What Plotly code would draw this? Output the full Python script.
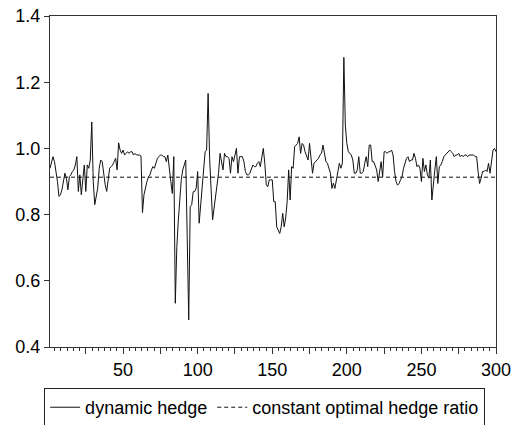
import plotly.graph_objects as go

dynamic_hedge = [
    0.94, 0.955, 0.975, 0.96, 0.93, 0.90, 0.855, 0.86, 0.875, 0.895,
    0.925, 0.91, 0.875, 0.915, 0.92, 0.93, 0.935, 0.95, 0.975, 0.87,
    0.92, 0.86, 0.90, 0.95, 0.87, 0.95, 0.94, 0.965, 1.08, 0.90,
    0.83, 0.85, 0.88, 0.94, 0.965, 0.96, 0.92, 0.89, 0.87, 0.90,
    0.94, 0.945, 0.95, 0.96, 0.97, 0.935, 1.017, 0.995, 0.985, 0.995,
    0.98, 0.985, 0.99, 0.985, 0.99, 0.99, 0.98, 0.985, 0.98, 0.98,
    0.98, 0.977, 0.806, 0.86, 0.884, 0.90, 0.914, 0.92, 0.935, 0.945,
    0.94, 0.96, 0.97, 0.975, 0.98, 0.98, 0.975, 0.975, 0.96, 0.98,
    0.93, 0.90, 0.864, 0.975, 0.532, 0.70, 0.78, 0.84, 0.905, 0.935,
    0.95, 0.965, 0.73, 0.482, 0.824, 0.83, 0.869, 0.87, 0.88, 0.93,
    0.774, 0.83, 0.874, 0.935, 0.99, 0.995, 1.166, 0.97, 0.86, 0.784,
    0.82, 0.854, 0.89, 0.925, 0.985, 0.96, 0.935, 0.985, 0.975, 0.975,
    0.97, 0.925, 0.975, 0.96, 0.98, 1.0, 0.925, 0.975, 0.975, 0.975,
    0.96, 0.93, 0.92, 0.92, 0.925, 0.935, 0.95, 0.945, 0.945, 0.955,
    0.96, 0.945, 0.98, 1.0, 0.955, 0.89, 0.884, 0.905, 0.905, 0.905,
    0.839, 0.839, 0.763, 0.75, 0.743, 0.763, 0.804, 0.763, 0.79, 0.839,
    0.935, 0.844, 0.945, 0.94, 1.005, 1.01, 1.015, 1.035, 0.985, 1.015,
    1.01, 0.99, 0.98, 0.965, 1.015, 0.97, 0.925, 0.955, 0.96, 0.965,
    0.97, 0.98, 0.985, 1.01, 0.98, 0.96, 0.955, 0.935, 0.925, 0.879,
    0.895, 0.879, 0.91, 0.93, 0.955, 0.94, 0.955, 1.275, 1.07, 1.015,
    0.99, 0.985, 0.98, 0.965, 0.925, 0.925, 0.935, 0.975, 0.925, 0.925,
    0.93, 0.955, 0.975, 0.945, 1.01, 1.01, 0.96, 0.96, 0.945, 0.935,
    0.90, 0.935, 0.96, 0.914, 0.99, 0.99, 0.985, 0.99, 0.99, 0.995,
    0.98, 0.93, 0.90, 0.889, 0.894, 0.905, 0.914, 0.94, 0.96, 0.97,
    0.975, 0.96, 0.965, 0.965, 0.985, 0.97, 0.945, 0.95, 0.94, 0.90,
    0.97, 0.93, 0.95, 0.92, 0.91, 0.965, 0.844, 0.90, 0.935, 0.975,
    0.894, 0.945, 0.95, 0.96, 0.975, 0.98, 0.985, 0.99, 0.995, 0.99,
    0.985, 0.975, 0.98, 0.98, 0.985, 0.975, 0.98, 0.975, 0.98, 0.98,
    0.975, 0.98, 0.98, 0.98, 0.98, 0.975, 0.975, 0.93, 0.894, 0.91,
    0.93, 0.93, 0.935, 0.93, 0.955, 0.925, 0.965, 0.995, 1.0, 0.99,
]
observations = list(range(1, len(dynamic_hedge) + 1))
constant_ratio = 0.913

x_tick_values = [25, 50, 75, 100, 125, 150, 175, 200, 225, 250, 275, 300]
x_tick_labels = ["", "50", "", "100", "", "150", "", "200", "", "250", "", "300"]
y_tick_values = [0.4, 0.6, 0.8, 1.0, 1.2, 1.4]

fig = go.Figure()
fig.add_trace(go.Scatter(
    x=observations, y=dynamic_hedge, mode="lines", name="dynamic hedge",
    line=dict(color="#111111", width=1),
))
fig.add_trace(go.Scatter(
    x=[observations[0], observations[-1]], y=[constant_ratio, constant_ratio],
    mode="lines", name="constant optimal hedge ratio",
    line=dict(color="#111111", width=1, dash="4px,3px"),
))

axis_line = "#333333"
fig.update_layout(
    width=513, height=425,
    margin=dict(l=50, r=17, t=16, b=78, autoexpand=False),
    paper_bgcolor="white", plot_bgcolor="white",
    font=dict(family="Arial", size=18, color="black"),
    showlegend=True,
    legend=dict(
        orientation="h", xref="container", yref="container",
        x=0.086, xanchor="left", y=0.087, yanchor="top",
        bordercolor="#222222", borderwidth=1, font=dict(size=18),
        tracegroupgap=0,
    ),
    xaxis=dict(
        range=[1, 300], tickmode="array", tickvals=x_tick_values, ticktext=x_tick_labels,
        ticks="outside", ticklen=6, tickcolor=axis_line, tickwidth=1,
        showline=True, linecolor=axis_line, linewidth=1, mirror=True,
        showgrid=False, zeroline=False, automargin=False,
        minor=dict(dtick=25 / 6, tick0=0, ticks="outside", ticklen=3,
                   tickcolor=axis_line, showgrid=False),
    ),
    yaxis=dict(
        range=[0.4, 1.4], tickmode="array", tickvals=y_tick_values,
        tickformat=".1f", ticks="outside", ticklen=5, tickcolor=axis_line,
        showline=True, linecolor=axis_line, linewidth=1, mirror=True,
        showgrid=False, zeroline=False, automargin=False,
    ),
)

fig.write_html("out.html")
